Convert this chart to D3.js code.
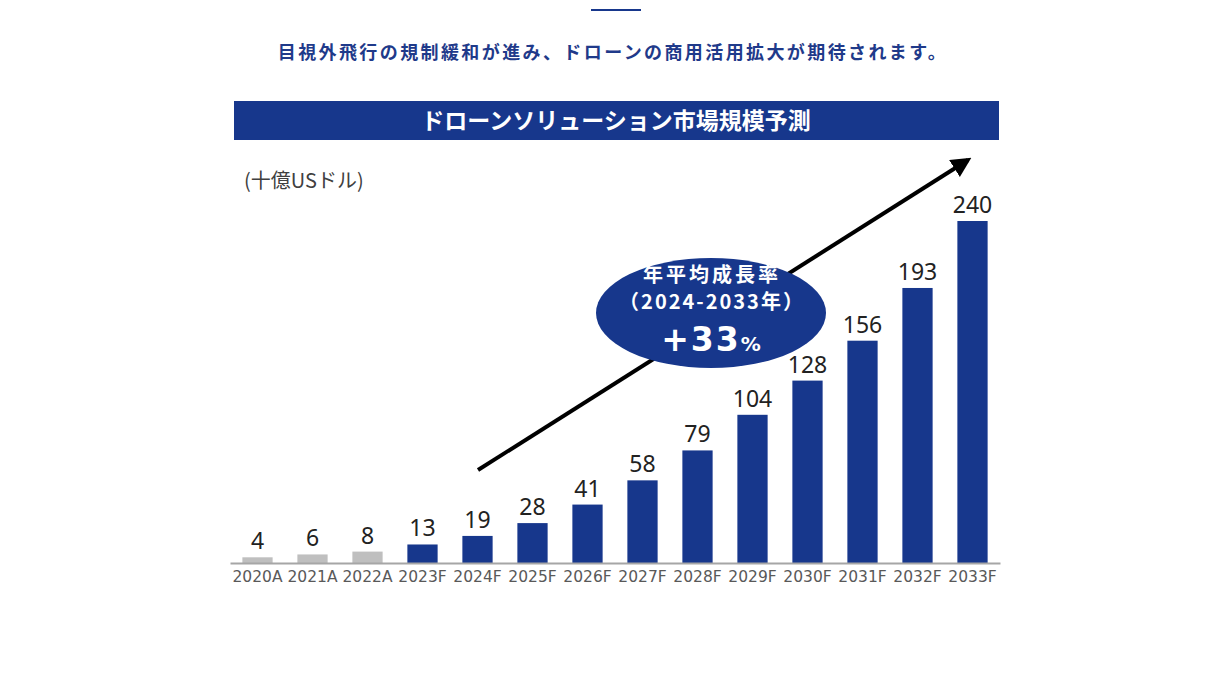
<!DOCTYPE html>
<html>
<head>
<meta charset="utf-8">
<script src="https://cdn.jsdelivr.net/npm/d3@7"></script>
<style>
  body { margin: 0; background: #fff; }
  svg { display: block; }
</style>
</head>
<body>
<svg id="chart" width="1232" height="691"></svg>
<script>
// Chart data
const years = ['2020A', '2021A', '2022A', '2023F', '2024F', '2025F', '2026F',
               '2027F', '2028F', '2029F', '2030F', '2031F', '2032F', '2033F'];
const values = [4, 6, 8, 13, 19, 28, 41, 58, 79, 104, 128, 156, 193, 240];
const actualYears = ['2020A', '2021A', '2022A'];

const blue = '#17378c';
const gray = '#bfbfbf';
const jp = '"Noto Sans CJK JP", "Noto Sans", sans-serif';

const svg = d3.select('#chart');

// Small rule at the top
svg.append('line')
    .attr('x1', 591).attr('x2', 641)
    .attr('y1', 10).attr('y2', 10)
    .attr('stroke', blue).attr('stroke-width', 2);

// Headline
svg.append('text')
    .attr('x', 613).attr('y', 59)
    .attr('text-anchor', 'middle')
    .style('font-family', jp)
    .style('font-size', '18px')
    .style('font-weight', 'bold')
    .style('letter-spacing', '2.4px')
    .style('fill', '#1f3a8a')
    .text('目視外飛行の規制緩和が進み、ドローンの商用活用拡大が期待されます。');

// Title banner
svg.append('rect')
    .attr('x', 234).attr('y', 101)
    .attr('width', 765).attr('height', 39)
    .attr('fill', blue);

svg.append('text')
    .attr('x', 616).attr('y', 129)
    .attr('text-anchor', 'middle')
    .style('font-family', jp)
    .style('font-size', '23px')
    .style('font-weight', 'bold')
    .style('fill', '#fff')
    .text('ドローンソリューション市場規模予測');

// Unit label
svg.append('text')
    .attr('x', 244).attr('y', 188)
    .style('font-family', jp)
    .style('font-size', '20px')
    .style('fill', '#404040')
    .text('(十億USドル)');

// Scales
const x = d3.scaleBand()
    .domain(years)
    .range([230, 1000])
    .paddingInner(0.45)
    .paddingOuter(0.225);

const y = d3.scaleLinear()
    .domain([0, 240])
    .range([563, 221]);

// Bars
svg.append('g')
    .selectAll('rect')
    .data(years)
    .join('rect')
    .attr('x', d => x(d))
    .attr('y', (d, i) => y(values[i]))
    .attr('width', x.bandwidth())
    .attr('height', (d, i) => y(0) - y(values[i]))
    .attr('fill', d => actualYears.includes(d) ? gray : blue);

// Value labels
svg.append('g')
    .selectAll('text')
    .data(years)
    .join('text')
    .attr('x', d => x(d) + x.bandwidth() / 2)
    .attr('y', (d, i) => y(values[i]) - 8)
    .attr('text-anchor', 'middle')
    .style('font-family', '"Noto Sans", "Open Sans", sans-serif')
    .style('font-size', '23px')
    .style('fill', '#222')
    .text((d, i) => values[i]);

// X axis
const xAxis = svg.append('g')
    .attr('transform', `translate(0,${y(0)})`)
    .call(d3.axisBottom(x).tickSize(0).tickSizeOuter(0).tickPadding(8));

xAxis.select('.domain')
    .attr('stroke', '#a6a6a6')
    .attr('stroke-width', 2);

xAxis.selectAll('text')
    .style('font-family', '"DejaVu Sans", Verdana, sans-serif')
    .style('font-size', '15.5px')
    .style('fill', '#595959');

// Growth arrow
svg.append('defs').append('marker')
    .attr('id', 'head')
    .attr('viewBox', '0 0 10 10')
    .attr('refX', 8).attr('refY', 5)
    .attr('markerWidth', 5).attr('markerHeight', 5)
    .attr('orient', 'auto')
    .append('path')
    .attr('d', 'M0,0 L10,5 L0,10 Z')
    .attr('fill', '#000');

svg.append('line')
    .attr('x1', 478).attr('y1', 470)
    .attr('x2', 968).attr('y2', 160)
    .attr('stroke', '#000')
    .attr('stroke-width', 4)
    .attr('marker-end', 'url(#head)');

// CAGR bubble
svg.append('ellipse')
    .attr('cx', 711).attr('cy', 313)
    .attr('rx', 115).attr('ry', 55)
    .attr('fill', blue);

svg.append('text')
    .attr('x', 712).attr('y', 282)
    .attr('text-anchor', 'middle')
    .style('font-family', jp)
    .style('font-size', '20px')
    .style('font-weight', 'bold')
    .style('letter-spacing', '3px')
    .style('fill', '#fff')
    .text('年平均成長率');

svg.append('text')
    .attr('x', 712).attr('y', 309)
    .attr('text-anchor', 'middle')
    .style('font-family', jp)
    .style('font-size', '20px')
    .style('font-weight', 'bold')
    .style('letter-spacing', '2px')
    .style('fill', '#fff')
    .text('（2024-2033年）');

const cagr = svg.append('text')
    .attr('x', 711).attr('y', 351)
    .attr('text-anchor', 'middle')
    .style('font-family', '"DejaVu Sans", sans-serif')
    .style('font-weight', 'bold')
    .style('fill', '#fff');

cagr.append('tspan').style('font-size', '33px').style('letter-spacing', '2px').text('+33');
cagr.append('tspan').style('font-size', '20px').text('%');
</script>
</body>
</html>
